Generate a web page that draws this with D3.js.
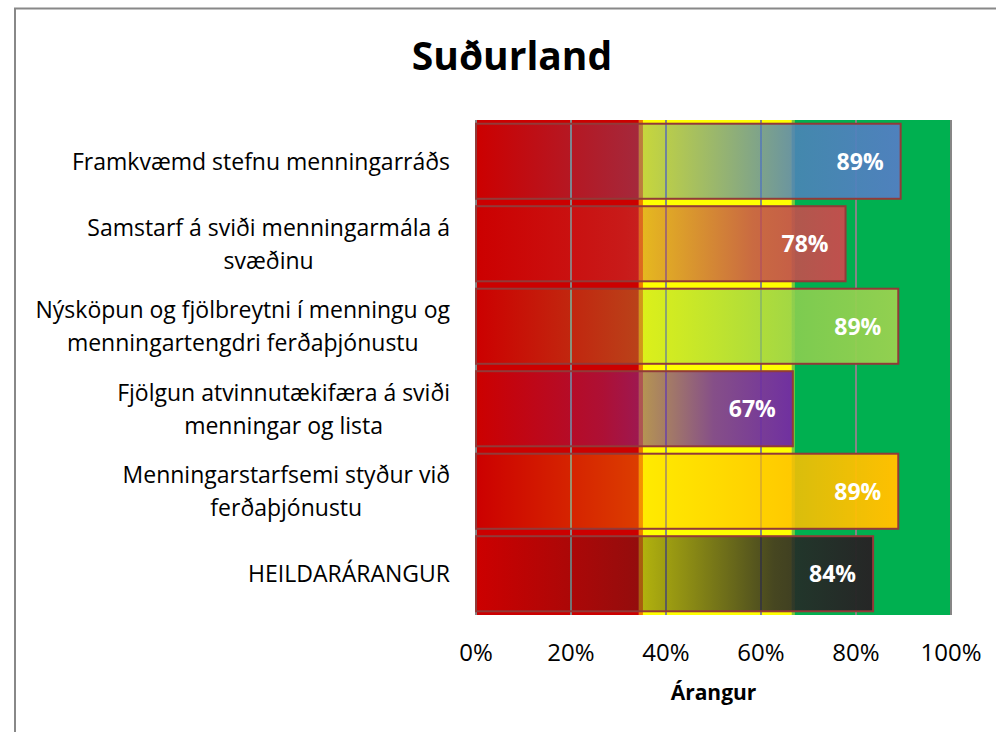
<!DOCTYPE html>
<html><head><meta charset="utf-8">
<script src="https://cdn.jsdelivr.net/npm/d3@7"></script>
<style>body{margin:0;background:#fff}</style></head>
<body>
<svg id="c" width="996" height="732"></svg>
<script>
const title = "Suðurland";
const axisTitle = "Árangur";
const categories = [
  "Framkvæmd stefnu menningarráðs",
  "Samstarf á sviði menningarmála á\nsvæðinu",
  "Nýsköpun og fjölbreytni í menningu og\nmenningartengdri ferðaþjónustu",
  "Fjölgun atvinnutækifæra á sviði\nmenningar og lista",
  "Menningarstarfsemi styður við\nferðaþjónustu",
  "HEILDARÁRANGUR"
];
const values = [0.894, 0.778, 0.889, 0.667, 0.889, 0.836];
const valueLabels = ["89%", "78%", "89%", "67%", "89%", "84%"];
const barColors = ["#4f81bd", "#c0504d", "#92d050", "#7030a0", "#ffc000", "#262626"];
const xTicks = [0, 0.2, 0.4, 0.6, 0.8, 1];
const bandBreaks = [0, 0.343, 0.665, 1];
const bandColors = ["#cc0000", "#ffff00", "#00b050"];

const FONT = "'Open Sans', 'Noto Sans', sans-serif";
const svg = d3.select("#c");
const defs = svg.append("defs");

// chart border
svg.append("rect").attr("x", 15).attr("y", 8.5).attr("width", 1000).attr("height", 740)
  .attr("fill", "#fff").attr("stroke", "#888").attr("stroke-width", 2);

const x = d3.scaleLinear().domain([0, 1]).range([476, 951]);
const y = d3.scaleBand().domain(d3.range(categories.length)).range([120, 615])
  .paddingInner(0.09).paddingOuter(0.045);
const plotTop = 120, plotBottom = 615;

// background bands
const bands = bandColors.map((c, i) => ({c, a: bandBreaks[i], b: bandBreaks[i + 1]}));
svg.append("g").selectAll("rect").data(bands).join("rect")
  .attr("x", d => x(d.a)).attr("width", d => x(d.b) - x(d.a))
  .attr("y", plotTop).attr("height", plotBottom - plotTop).attr("fill", d => d.c);
svg.append("rect").attr("x", x(bandBreaks[1])).attr("width", 4).attr("y", plotTop).attr("height", plotBottom - plotTop).attr("fill", "#f07a00");
svg.append("rect").attr("x", x(bandBreaks[2])).attr("width", 3).attr("y", plotTop).attr("height", plotBottom - plotTop).attr("fill", "#7cc83a");

// gridlines
svg.append("g").selectAll("line").data(xTicks).join("line")
  .attr("x1", d => x(d)).attr("x2", d => x(d)).attr("y1", plotTop).attr("y2", plotBottom)
  .attr("stroke", "#868686").attr("stroke-width", 2);

// gradients
barColors.forEach((c, i) => {
  const g = defs.append("linearGradient").attr("id", "g" + i)
    .attr("x1", "0").attr("x2", "1").attr("y1", "0").attr("y2", "0");
  [[0, 0], [0.4, 0.33], [0.75, 0.85], [1, 1]].forEach(([o, a]) =>
    g.append("stop").attr("offset", o).attr("stop-color", c).attr("stop-opacity", a));
});

// bars
svg.append("g").selectAll("rect").data(values).join("rect")
  .attr("x", x(0)).attr("y", (d, i) => y(i))
  .attr("width", d => x(d) - x(0)).attr("height", y.bandwidth())
  .attr("fill", (d, i) => `url(#g${i})`)
  .attr("stroke", "#923a38").attr("stroke-width", 2);

// value labels
svg.append("g").selectAll("text").data(values).join("text")
  .attr("x", d => x(d) - 17).attr("y", (d, i) => y(i) + y.bandwidth() / 2)
  .attr("dy", "0.36em").attr("text-anchor", "end")
  .attr("font-family", FONT).attr("font-weight", "bold").attr("font-size", 23)
  .attr("fill", "#fff").text((d, i) => valueLabels[i]);

// category labels
const catG = svg.append("g").attr("font-family", FONT).attr("font-size", 23).attr("fill", "#000");
categories.forEach((label, i) => {
  const lines = label.split("\n");
  const cy = y(i) + y.bandwidth() / 2;
  const lh = 33;
  const texts = lines.map((ln, k) => catG.append("text")
    .attr("y", cy + (k - (lines.length - 1) / 2) * lh).attr("dy", "0.36em")
    .attr("text-anchor", "middle").text(ln));
  const maxW = d3.max(texts, t => t.node().getComputedTextLength());
  texts.forEach(t => t.attr("x", 450 - maxW / 2));
});

// x tick labels
svg.append("g").selectAll("text").data(xTicks).join("text")
  .attr("x", d => x(d)).attr("y", 661).attr("text-anchor", "middle")
  .attr("font-family", FONT).attr("font-size", 24).attr("fill", "#000")
  .text(d => d3.format(".0%")(d));

// axis title
svg.append("text").attr("x", (x(0) + x(1)) / 2).attr("y", 700).attr("text-anchor", "middle")
  .attr("font-family", FONT).attr("font-weight", "bold").attr("font-size", 21)
  .text(axisTitle);

// title
svg.append("text").attr("x", 512).attr("y", 70).attr("text-anchor", "middle")
  .attr("font-family", FONT).attr("font-weight", "bold").attr("font-size", 39)
  .text(title);
</script>
</body></html>
